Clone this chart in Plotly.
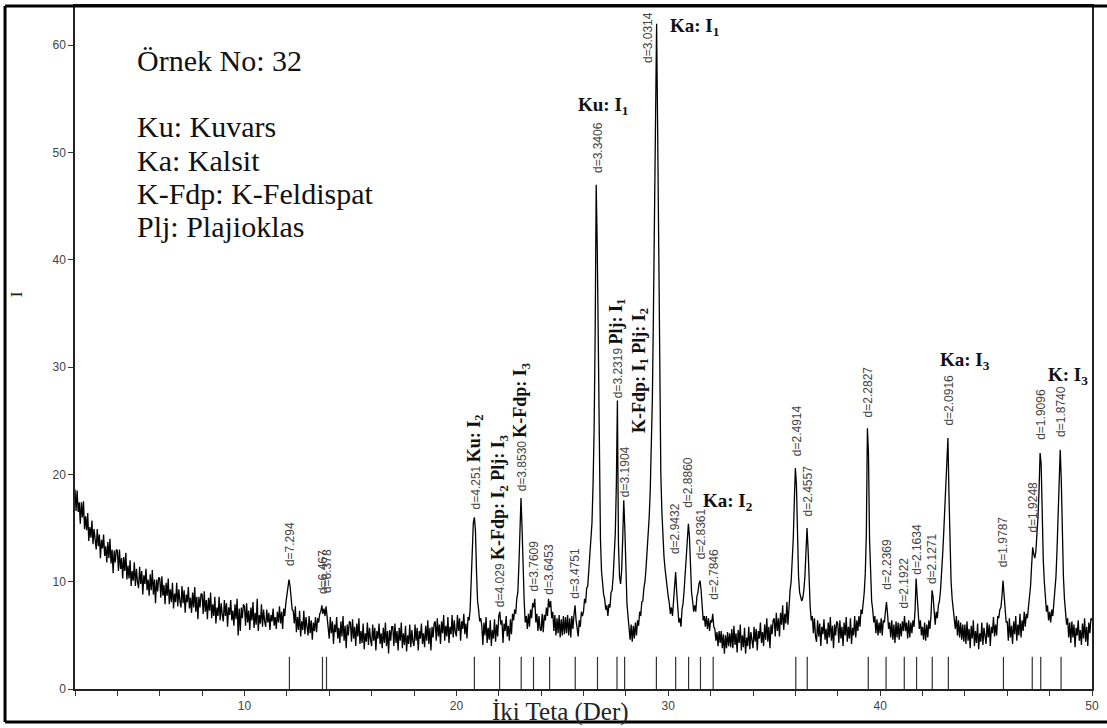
import plotly.graph_objects as go

# ---------------- data ----------------
two_theta_start = 2.0
two_theta_step = 0.05
# intensity at 0.05 deg steps, 2.00 .. 50.00 (one row per degree)
intensity = [
    18.6, 16.6, 18.5, 16.5, 17.4, 15.4, 17.4, 16.0, 17.5, 14.9, 16.1, 14.8, 16.4, 13.8, 15.1, 14.1, 15.7, 13.5, 14.9, 13.6,  # 2
    13.0, 14.9, 13.3, 14.4, 12.2, 13.9, 13.1, 14.4, 12.4, 13.3, 11.8, 13.7, 12.2, 14.0, 11.7, 13.0, 10.8, 12.9, 11.8, 13.0,  # 3
    12.9, 11.0, 13.0, 11.2, 12.2, 10.3, 12.3, 11.0, 12.7, 10.2, 11.5, 10.3, 12.0, 9.6, 11.0, 10.1, 11.8, 9.6, 11.2, 10.0,  # 4
    9.4, 11.4, 9.8, 11.0, 8.8, 10.6, 9.8, 11.2, 9.2, 10.2, 8.7, 10.7, 9.2, 11.1, 8.8, 10.2, 8.0, 10.2, 9.1, 10.4,  # 5
    10.3, 8.5, 10.5, 8.7, 9.7, 7.9, 9.9, 8.7, 10.3, 7.9, 9.3, 8.1, 9.9, 7.5, 8.9, 8.1, 9.9, 7.7, 9.3, 8.2,  # 6
    7.6, 9.6, 8.0, 9.2, 7.1, 8.8, 8.1, 9.5, 7.5, 8.5, 7.1, 9.0, 7.6, 9.5, 7.2, 8.6, 6.5, 8.6, 7.6, 8.9,  # 7
    8.8, 7.0, 9.1, 7.2, 8.3, 6.5, 8.5, 7.3, 9.0, 6.6, 7.9, 6.8, 8.6, 6.1, 7.6, 6.8, 8.6, 6.4, 8.0, 6.9,  # 8
    6.3, 8.3, 6.8, 8.0, 5.8, 7.6, 6.9, 8.3, 6.4, 7.3, 5.9, 7.9, 6.5, 8.4, 5.0, 7.5, 5.4, 7.6, 6.6, 7.9,  # 9
    7.7, 5.9, 8.0, 6.2, 7.3, 5.5, 7.6, 6.4, 8.1, 5.7, 7.1, 6.0, 8.4, 5.4, 6.9, 6.1, 7.9, 5.8, 7.4, 6.3,  # 10
    5.8, 7.4, 6.2, 7.1, 5.5, 6.9, 6.3, 7.5, 5.9, 6.7, 5.6, 7.2, 6.2, 7.7, 6.1, 7.2, 5.6, 7.5, 6.8, 8.0,  # 11
    8.6, 9.4, 10.2, 9.6, 8.0, 7.4, 7.3, 6.1, 7.7, 5.3, 6.7, 5.5, 7.3, 4.9, 6.3, 5.5, 7.3, 5.1, 6.7, 5.6,  # 12
    5.0, 6.8, 5.2, 6.4, 4.6, 6.2, 5.4, 6.7, 5.3, 6.6, 6.2, 7.0, 7.2, 7.8, 7.0, 7.5, 6.8, 7.7, 6.6, 6.0,  # 13
    4.7, 6.7, 5.2, 6.3, 4.2, 6.0, 5.3, 6.7, 4.7, 5.7, 4.3, 6.3, 4.9, 6.8, 4.5, 5.9, 3.8, 6.0, 5.0, 6.3,  # 14
    6.2, 4.4, 6.5, 4.7, 5.8, 4.0, 6.1, 4.9, 6.6, 4.2, 5.4, 4.3, 6.1, 3.7, 5.2, 4.4, 6.2, 4.1, 5.7, 4.6,  # 15
    4.0, 6.0, 4.5, 5.7, 3.6, 5.4, 4.7, 6.1, 4.2, 5.2, 3.8, 5.7, 4.3, 6.2, 4.0, 5.4, 3.3, 5.5, 4.5, 5.8,  # 16
    5.8, 4.0, 6.1, 4.3, 5.4, 3.6, 5.7, 4.5, 6.2, 3.8, 5.2, 4.1, 5.9, 3.5, 5.0, 4.2, 6.0, 3.9, 5.5, 4.4,  # 17
    4.0, 6.0, 4.5, 5.7, 3.6, 5.4, 4.7, 6.1, 4.2, 5.2, 3.9, 5.9, 4.5, 6.4, 4.2, 5.7, 3.6, 5.8, 4.8, 6.1,  # 18
    6.3, 4.5, 6.6, 4.9, 6.0, 4.2, 6.3, 5.2, 6.9, 4.5, 5.9, 4.9, 6.7, 4.3, 5.8, 5.1, 6.9, 4.8, 6.4, 5.3,  # 19
    4.9, 6.9, 5.4, 6.6, 4.5, 6.3, 5.6, 7.0, 5.1, 6.1, 4.7, 6.7, 6.4, 7.4, 9.6, 13.0, 15.5, 16.0, 14.8, 11.0,  # 20
    8.2, 7.4, 6.3, 6.6, 5.9, 4.1, 6.2, 5.0, 6.7, 4.3, 5.7, 4.6, 6.4, 4.0, 5.5, 4.7, 6.5, 4.4, 6.0, 4.9,  # 21
    6.8, 7.2, 6.0, 6.4, 4.3, 6.1, 5.4, 6.8, 4.9, 5.9, 4.5, 6.5, 5.1, 7.0, 6.4, 7.4, 7.0, 8.4, 9.0, 11.5,  # 22
    15.5, 17.8, 15.0, 10.5, 8.2, 6.2, 6.8, 5.6, 7.0, 5.8, 7.4, 6.6, 8.0, 7.6, 8.4, 6.2, 7.0, 5.4, 6.8, 5.6,  # 23
    5.4, 7.0, 5.3, 6.9, 6.4, 7.6, 6.8, 8.4, 7.6, 8.2, 6.6, 7.2, 5.4, 6.9, 5.0, 6.6, 5.2, 6.9, 4.8, 6.5,  # 24
    5.0, 6.8, 5.1, 6.7, 5.2, 6.9, 5.0, 6.6, 4.8, 6.8, 5.6, 6.9, 7.8, 6.4, 5.6, 4.9, 6.4, 5.8, 7.2, 6.8,  # 25
    7.2, 8.4, 8.0, 9.4, 9.6, 11.0, 12.0, 13.5, 15.5, 19.0, 24.0, 33.0, 47.0, 41.0, 30.0, 20.0, 14.0, 11.0, 9.6, 8.8,  # 26
    8.4, 7.4, 7.8, 6.8, 7.9, 7.6, 9.0, 9.2, 10.5, 12.0, 14.5, 19.0, 26.9, 13.5, 10.5, 9.8, 11.0, 14.0, 17.6, 15.0,  # 27
    10.5, 8.0, 6.8, 5.4, 4.6, 6.0, 4.4, 5.9, 4.7, 6.2, 5.0, 6.4, 5.9, 7.2, 6.8, 8.1, 8.2, 9.4, 10.0, 11.2,  # 28
    12.5, 14.0, 16.0, 18.5, 22.0, 27.0, 35.0, 46.0, 53.0, 62.0, 52.0, 38.0, 27.0, 20.0, 16.5, 14.0, 12.3, 11.2, 10.2, 9.4,  # 29
    8.6, 8.0, 7.0, 7.6, 6.8, 8.2, 9.6, 10.9, 9.0, 7.4, 6.2, 6.6, 5.8, 7.4, 8.0, 9.2, 10.8, 12.8, 14.6, 15.4,  # 30
    14.2, 11.5, 9.0, 8.2, 7.2, 7.8, 7.2, 8.6, 9.0, 9.8, 10.1, 9.2, 7.8, 6.4, 6.8, 5.8, 6.8, 5.6, 6.6, 5.4,  # 31
    6.4, 6.2, 7.0, 5.8, 5.6, 4.5, 5.3, 4.0, 5.4, 4.3, 5.4, 3.8, 5.1, 3.3, 5.0, 3.8, 5.3, 4.0, 5.2, 3.9,  # 32
    5.6, 3.8, 5.9, 4.1, 5.2, 3.4, 5.5, 4.3, 6.0, 3.6, 5.0, 3.9, 5.7, 3.3, 4.8, 4.0, 5.8, 3.7, 5.3, 4.2,  # 33
    3.8, 5.8, 4.4, 5.6, 3.6, 5.4, 4.7, 6.2, 4.3, 5.3, 4.0, 6.0, 4.6, 6.6, 4.4, 5.8, 3.8, 6.0, 5.1, 6.4,  # 34
    6.6, 4.9, 7.1, 5.4, 6.6, 4.9, 7.1, 6.0, 7.8, 5.5, 7.0, 6.1, 8.1, 6.0, 7.8, 9.2, 10.0, 11.5, 14.0, 17.5,  # 35
    20.6, 19.0, 14.0, 10.5, 9.0, 8.4, 8.2, 8.5, 9.2, 10.5, 12.5, 15.0, 13.0, 9.5, 7.6, 6.4, 6.8, 5.2, 6.6, 4.9,  # 36
    4.4, 6.4, 4.9, 6.1, 4.0, 5.8, 5.1, 6.5, 4.6, 5.6, 4.2, 6.2, 4.8, 6.7, 4.5, 5.9, 3.8, 6.0, 5.0, 6.3,  # 37
    6.1, 4.3, 6.4, 4.7, 5.8, 4.0, 6.2, 5.0, 6.7, 4.4, 5.8, 4.7, 6.6, 4.2, 5.7, 5.0, 6.8, 4.8, 6.4, 5.4,  # 38
    6.8, 5.8, 7.4, 7.0, 8.0, 9.0, 10.8, 14.5, 24.3, 22.0, 14.0, 10.0, 8.2, 7.4, 6.2, 6.8, 5.2, 6.5, 5.0, 6.2,  # 39
    5.2, 6.6, 5.0, 6.4, 6.2, 7.2, 8.1, 7.0, 5.6, 6.2, 4.8, 6.4, 4.6, 6.0, 4.3, 6.3, 4.8, 6.2, 4.6, 6.1,  # 40
    4.9, 6.3, 5.4, 6.8, 5.4, 6.2, 4.7, 6.4, 4.8, 6.2, 5.2, 6.4, 5.8, 7.4, 10.3, 8.6, 6.8, 5.6, 6.4, 5.0,  # 41
    5.8, 4.6, 6.2, 4.5, 6.0, 4.8, 6.4, 5.6, 6.8, 9.2, 8.6, 7.0, 6.0, 7.2, 6.6, 7.8, 8.2, 9.2, 10.5, 12.5,  # 42
    14.5, 17.0, 20.0, 22.5, 23.4, 18.0, 13.0, 10.0, 8.4, 7.2, 6.6, 5.6, 6.8, 5.0, 6.4, 4.8, 6.2, 4.6, 6.0, 4.4,  # 43
    6.0, 4.2, 6.3, 4.5, 5.6, 3.8, 5.9, 4.7, 6.4, 4.0, 5.4, 4.3, 6.1, 3.7, 5.2, 4.4, 6.2, 4.1, 5.7, 4.6,  # 44
    4.2, 6.2, 4.8, 6.0, 4.0, 5.8, 5.2, 6.7, 4.9, 6.0, 5.0, 6.8, 6.6, 7.4, 7.6, 8.6, 10.1, 8.8, 7.2, 6.2,  # 45
    6.3, 4.5, 6.6, 4.8, 5.9, 4.2, 6.3, 5.1, 6.8, 4.5, 6.0, 5.0, 7.0, 4.8, 6.4, 5.4, 7.2, 5.8, 7.0, 6.6,  # 46
    7.6, 8.4, 9.6, 11.5, 13.2, 12.6, 12.2, 12.8, 14.0, 16.0, 18.5, 22.0, 21.0, 15.5, 12.0, 10.0, 8.6, 7.2, 7.8, 6.4,  # 47
    7.2, 6.2, 7.4, 6.8, 8.0, 9.0, 10.5, 13.0, 17.0, 21.0, 22.3, 19.5, 14.5, 10.5, 8.4, 7.2, 6.0, 6.6, 4.8, 6.2,  # 48
    4.3, 6.3, 4.8, 6.0, 3.9, 5.7, 5.0, 6.4, 4.5, 5.5, 4.1, 6.1, 4.7, 6.6, 4.4, 5.8, 4.0, 6.2, 5.2, 6.6,  # 49
    6.4,  # 50
]

# reference stick positions (2-theta)
stick_positions = [12.12, 13.68, 13.87, 20.85, 22.04, 23.06, 23.64, 24.40, 25.61,
                   26.66, 27.58, 27.94, 29.44, 30.35, 30.96, 31.52, 32.12,
                   36.02, 36.56, 39.44, 40.28, 41.14, 41.72, 42.46, 43.22,
                   45.82, 47.18, 47.58, 48.54]
stick_height = 3.0

# d-spacing labels (with the phase name that follows some of them)
d_labels = ["d=7.294", "d=6.467", "d=6.378", "d=4.251", "d=4.029", "d=3.8530",
            "d=3.7609", "d=3.6453", "d=3.4751", "d=3.3406", "d=3.2319", "d=3.1904",
            "d=3.0314", "d=2.9432", "d=2.8860", "d=2.8361", "d=2.7846",
            "d=2.4914", "d=2.4557", "d=2.2827", "d=2.2369", "d=2.1922", "d=2.1634",
            "d=2.1271", "d=2.0916", "d=1.9787", "d=1.9248", "d=1.9096", "d=1.8740"]
d_suffix = ["", "", "", "Ku: I<sub>2</sub>", "K-Fdp: I<sub>2</sub> Plj: I<sub>3</sub>",
            "K-Fdp: I<sub>3</sub>", "", "", "", "", "Plj: I<sub>1</sub>", "",
            "", "", "", "", "", "", "", "", "", "", "", "", "", "", "", "", ""]
d_label_x = [12.12, 13.68, 13.87, 20.88, 22.04, 23.06, 23.64, 24.40, 25.61,
             26.66, 27.58, 27.94, 29.04, 30.35, 30.96, 31.52, 32.12,
             36.05, 36.58, 39.44, 40.32, 41.14, 41.74, 42.48, 43.25,
             45.80, 47.20, 47.60, 48.56]
d_label_y = [11.4, 8.8, 8.8, 16.6, 7.5, 18.3, 9.0, 8.7, 8.3,
             48.0, 27.0, 17.8, 58.3, 12.5, 16.8, 12.0, 8.2,
             21.6, 16.0, 25.2, 9.2, 7.4, 10.6, 9.7, 24.5,
             11.2, 14.5, 23.1, 23.4]

# phase labels written vertically on their own
phase_rot_text = ["K-Fdp: I<sub>1</sub> Plj: I<sub>2</sub>"]
phase_rot_x = [28.66]
phase_rot_y = [23.8]

# phase labels written horizontally
phase_h_text = ["Ku: I<sub>1</sub>", "Ka: I<sub>1</sub>", "Ka: I<sub>2</sub>",
                "Ka: I<sub>3</sub>", "K: I<sub>3</sub>"]
phase_h_x = [25.69, 30.03, 31.60, 42.77, 47.87]
phase_h_y = [54.3, 61.7, 17.4, 30.6, 29.2]

legend_lines = ["Örnek No: 32", "Ku: Kuvars", "Ka: Kalsit",
                "K-Fdp: K-Feldispat", "Plj: Plajioklas"]
legend_y = [0.920, 0.823, 0.774, 0.725, 0.677]

x_title = "İki Teta (Der)"
y_title = "I"

# ---------------- figure ----------------
SERIF = "Liberation Serif, Times New Roman, serif"
SANS = "Liberation Sans, Arial, sans-serif"
PHASE_SPAN = ('<span style="font-family:Liberation Serif, serif;font-size:18px;'
              'color:#111111"><b>{}</b></span>')

fig = go.Figure()

fig.add_trace(go.Scatter(
    x0=two_theta_start, dx=two_theta_step, y=intensity,
    mode="lines", line=dict(color="black", width=1.3),
    hoverinfo="skip", showlegend=False))

sx, sy = [], []
for p in stick_positions:
    sx += [p, p, None]
    sy += [0, stick_height, None]
fig.add_trace(go.Scatter(x=sx, y=sy, mode="lines",
                         line=dict(color="#333333", width=1.2),
                         hoverinfo="skip", showlegend=False))

ann = []
for t, s, x, y in zip(d_labels, d_suffix, d_label_x, d_label_y):
    text = t + (" " + PHASE_SPAN.format(s) if s else "")
    ann.append(dict(x=x, y=y, xref="x", yref="y", text=text, textangle=-90,
                    showarrow=False, xanchor="center", yanchor="bottom",
                    borderpad=0,
                    font=dict(family=SANS, size=12, color="#444444")))
for t, x, y in zip(phase_rot_text, phase_rot_x, phase_rot_y):
    ann.append(dict(x=x, y=y, xref="x", yref="y", text="<b>" + t + "</b>",
                    textangle=-90, showarrow=False, xanchor="center",
                    yanchor="bottom", borderpad=0,
                    font=dict(family=SERIF, size=18, color="#111111")))
for t, x, y in zip(phase_h_text, phase_h_x, phase_h_y):
    ann.append(dict(x=x, y=y, xref="x", yref="y", text="<b>" + t + "</b>",
                    showarrow=False, xanchor="left", yanchor="middle",
                    borderpad=0,
                    font=dict(family=SERIF, size=19, color="#111111")))
for t, y in zip(legend_lines, legend_y):
    ann.append(dict(x=0.059, y=y, xref="paper", yref="paper", text=t,
                    showarrow=False, xanchor="left", yanchor="middle",
                    font=dict(family=SERIF, size=30, color="#111111")))
ann.append(dict(x=0.477, y=-0.034, xref="paper", yref="paper", text=x_title,
                showarrow=False, xanchor="center", yanchor="middle",
                font=dict(family=SERIF, size=25, color="#222222")))
ann.append(dict(x=-0.058, y=0.578, xref="paper", yref="paper", text=y_title,
                textangle=-90, showarrow=False, xanchor="center", yanchor="middle",
                font=dict(family=SERIF, size=17, color="#222222")))

shapes = [
    dict(type="line", xref="paper", yref="paper", x0=-0.0688, x1=-0.0688,
         y0=-0.0482, y1=1.0, line=dict(color="black", width=3)),
    dict(type="line", xref="paper", yref="paper", x0=-0.0688, x1=1.03,
         y0=1.0, y1=1.0, line=dict(color="black", width=3)),
    dict(type="line", xref="paper", yref="paper", x0=-0.0688, x1=1.03,
         y0=-0.0482, y1=-0.0482, line=dict(color="black", width=3)),
]

fig.update_layout(
    width=1107, height=728,
    margin=dict(l=75, r=15, t=4, b=39),
    paper_bgcolor="white", plot_bgcolor="white",
    annotations=ann, shapes=shapes,
    xaxis=dict(range=[2, 50], tickmode="array", tickvals=[10, 20, 30, 40, 50],
               ticks="outside", ticklen=5, tickwidth=1.2, tickcolor="#333",
               minor=dict(dtick=2, tick0=0, ticks="outside", ticklen=5,
                          tickwidth=1.2, tickcolor="#333", showgrid=False),
               showgrid=False, zeroline=False,
               showline=True, linecolor="#222", linewidth=1.5, mirror=True,
               tickfont=dict(family=SANS, size=12, color="#444")),
    yaxis=dict(range=[0, 63.66], tickmode="array",
               tickvals=[0, 10, 20, 30, 40, 50, 60],
               ticks="outside", ticklen=5, tickwidth=1.2, tickcolor="#333",
               showgrid=False, zeroline=False,
               showline=True, linecolor="#222", linewidth=1.5, mirror=True,
               tickfont=dict(family=SANS, size=12, color="#444")),
)

fig.write_html("out.html", config={"displayModeBar": False},
               post_script="document.body.style.margin='0px';")
